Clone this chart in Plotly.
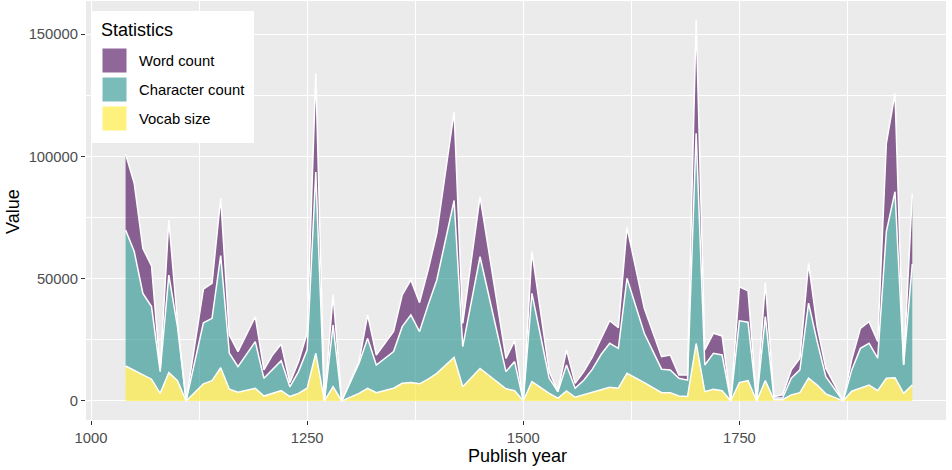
import plotly.graph_objects as go

years = [1040, 1050, 1060, 1070, 1080, 1090, 1100, 1110, 1130, 1140, 1150, 1160, 1170,
         1190, 1200, 1210, 1220, 1230, 1240, 1250, 1260, 1270, 1280, 1290, 1310, 1320,
         1330, 1350, 1360, 1370, 1380, 1390, 1400, 1420, 1430, 1450, 1480, 1490, 1500,
         1510, 1530, 1540, 1550, 1560, 1570, 1580, 1590, 1600, 1610, 1620, 1640, 1660,
         1670, 1680, 1690, 1700, 1710, 1720, 1730, 1740, 1750, 1760, 1770, 1780, 1790,
         1800, 1810, 1820, 1830, 1840, 1850, 1870, 1880, 1890, 1900, 1910, 1920, 1930,
         1940, 1950]

vocab_size = [14300, 12500, 10700, 8900, 3100, 11600, 8300, 0, 7000, 8300, 13600, 4800, 3600,
              5200, 2000, 3100, 4200, 1800, 3100, 5200, 19500, 0, 5800, 0, 3100, 5200,
              3400, 5200, 7200, 7500, 7000, 8900, 11300, 17800, 5800, 13300, 5000, 4200, 0,
              7900, 3100, 1100, 4100, 1500, 2500, 3500, 4500, 5600, 5200, 11300, 7500, 3400,
              3400, 2000, 1800, 23500, 3800, 4800, 4200, 0, 7500, 8300, 0, 8300, 500,
              500, 2500, 3400, 9300, 6500, 2900, 0, 4000, 5200, 6500, 4200, 9300, 9500,
              3100, 6500]

character_count = [55600, 48600, 33300, 29700, 8900, 39900, 22100, 0, 25000, 25500, 45900, 14700, 10400,
                   19100, 7300, 9600, 12300, 4000, 8900, 15700, 74100, 0, 25200, 0, 12300, 20400,
                   11300, 15000, 23200, 27700, 21400, 30400, 38200, 64200, 16400, 45700, 7000, 11900, 0,
                   36100, 6200, 2700, 10600, 3700, 6000, 9500, 14500, 18000, 16300, 38900, 20200, 9600,
                   9300, 7300, 6700, 86000, 10900, 14700, 14600, 0, 25300, 23900, 0, 26200, 700,
                   700, 6800, 9300, 30700, 17800, 7000, 0, 8700, 16300, 17100, 13300, 60000, 76100,
                   11600, 49500]

word_count = [31100, 27900, 18400, 16600, 700, 22500, 2000, 0, 13700, 14300, 23500, 7500, 6200,
              10200, 3400, 6100, 6800, 1700, 4000, 6800, 40400, 0, 12400, 0, 700, 9600,
              4100, 8200, 13000, 14300, 11800, 14300, 19100, 36300, 9500, 24600, 5400, 8600, 0,
              17100, 2700, 0, 6200, 2000, 3500, 5000, 6500, 9200, 8500, 20800, 10200, 5100,
              6100, 1300, 2100, 46300, 6200, 8200, 7800, 0, 13900, 12800, 0, 13900, 600,
              1300, 3400, 4800, 16300, 6100, 3500, 0, 4300, 8200, 8800, 6800, 36100, 40200,
              0, 28700]

series_names = ["Word count", "Character count", "Vocab size"]
x_ticks = [1000, 1250, 1500, 1750]
y_ticks = [0, 50000, 100000, 150000]

fills = {
    "Word count": "rgba(68,1,84,0.6)",
    "Character count": "rgba(33,144,140,0.6)",
    "Vocab size": "rgba(253,231,37,0.6)",
}

fig = go.Figure()
# bottom to top: Vocab, Character, Word
for name, vals in [("Vocab size", vocab_size), ("Character count", character_count),
                   ("Word count", word_count)]:
    fig.add_trace(go.Scatter(
        x=years, y=vals, name=name, mode="lines", stackgroup="one",
        line=dict(color="white", width=1.5), fillcolor=fills[name],
        showlegend=False, hoverinfo="x+y+name",
    ))

W, H = 952, 470
ML, MR, MT, MB = 86, 6, 1, 50
PW, PH = W - ML - MR, H - MT - MB

def px(x):
    return (x - ML) / PW

def py(y):
    return 1 - (y - MT) / PH

shapes = [dict(type="rect", xref="paper", yref="paper", x0=px(91), x1=px(254),
               y0=py(143), y1=py(11), fillcolor="white", line=dict(width=0), layer="above")]
annotations = [dict(text="Statistics", xref="paper", yref="paper", x=px(99), y=py(30),
                    xanchor="left", yanchor="middle", showarrow=False,
                    font=dict(size=18, color="black")),
               dict(text="Publish year", xref="paper", yref="paper", x=px(517), y=py(456),
                    xanchor="center", yanchor="middle", showarrow=False,
                    font=dict(size=18, color="black")),
               dict(text="Value", xref="paper", yref="paper", x=px(13), y=py(212),
                    xanchor="center", yanchor="middle", showarrow=False, textangle=-90,
                    font=dict(size=18, color="black"))]
key_tops = [48, 77, 106]
for name, top in zip(series_names, key_tops):
    shapes.append(dict(type="rect", xref="paper", yref="paper", x0=px(102), x1=px(127),
                       y0=py(top + 25), y1=py(top), fillcolor=fills[name],
                       line=dict(color="white", width=1), layer="above"))
    annotations.append(dict(text=name, xref="paper", yref="paper", x=px(137),
                            y=py(top + 13), xanchor="left", yanchor="middle",
                            showarrow=False, font=dict(size=14.8, color="black")))

fig.update_layout(
    width=W, height=H,
    margin=dict(l=ML, r=MR, t=MT, b=MB, pad=0, autoexpand=False),
    paper_bgcolor="white", plot_bgcolor="#EBEBEB",
    font=dict(family="Liberation Sans, Arial, sans-serif", size=14.8, color="#4D4D4D"),
    shapes=shapes, annotations=annotations,
    showlegend=False,
)
fig.update_xaxes(
    range=[994.2, 1989.0], tickvals=x_ticks, ticktext=[str(v) for v in x_ticks],
    automargin=False,
    showgrid=True, gridcolor="white", gridwidth=1.2,
    minor=dict(dtick=125, tick0=1000, showgrid=True, gridcolor="white", gridwidth=0.6, ticks=""),
    ticks="outside", ticklen=4, tickcolor="#333333", tickwidth=1,
    zeroline=False, showline=False,
    tickfont=dict(size=14.8, color="#4D4D4D"),
)
fig.update_yaxes(
    range=[-7790, 163600], tickvals=y_ticks, ticktext=[str(v) for v in y_ticks],
    automargin=False,
    showgrid=True, gridcolor="white", gridwidth=1.2,
    minor=dict(dtick=25000, tick0=0, showgrid=True, gridcolor="white", gridwidth=0.6, ticks=""),
    ticks="outside", ticklen=4, tickcolor="#333333", tickwidth=1,
    zeroline=False, showline=False,
    tickfont=dict(size=14.8, color="#4D4D4D"),
)

fig.write_html(
    "out.html",
    config={"displayModeBar": False},
    post_script="document.body.style.margin='0';document.body.style.overflow='hidden';",
)
